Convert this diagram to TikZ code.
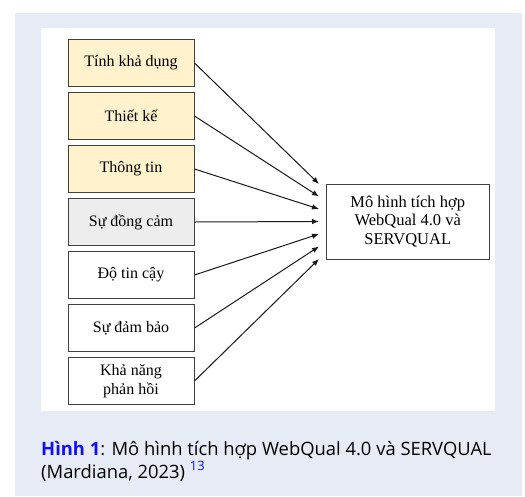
\documentclass[tikz,border=0pt]{standalone}
\usepackage{fontspec}
\setmainfont{Liberation Serif}
\newfontfamily\capfont{Open Sans}
\usetikzlibrary{arrows.meta,calc}

\definecolor{panelbg}{HTML}{E7EBF6}
\definecolor{factoryellow}{HTML}{FFF2CC}
\definecolor{factorgray}{HTML}{EDEDED}
\definecolor{boxline}{HTML}{404040}
\definecolor{linkblue}{HTML}{1010EE}

\tikzset{
  factor/.style={draw=boxline, line width=1pt, minimum width=126pt,
    minimum height=47pt, inner sep=0pt, align=center,
    font=\fontsize{16}{18.5}\selectfont},
  yellowfactor/.style={factor, fill=factoryellow},
  grayfactor/.style={factor, fill=factorgray},
  whitefactor/.style={factor, fill=white},
  model/.style={draw=boxline, line width=1pt, fill=white, minimum width=162.5pt,
    minimum height=75pt, inner sep=0pt, align=center,
    font=\fontsize{16.5}{18.5}\selectfont},
  link/.style={line width=1pt, draw=black!90, -{Latex[length=7pt,width=5.5pt]}},
  captionline/.style={anchor=base west, inner sep=0pt,
    font=\capfont\fontsize{18.4}{23.5}\selectfont}
}

\begin{document}
\begin{tikzpicture}[x=1pt,y=-1pt]
  \useasboundingbox (0,0) rectangle (525,496);
  % page background, caption panel and figure area
  \fill[white] (0,0) rectangle (525,496);
  \fill[panelbg] (15,13) rectangle (522,496);
  \fill[white] (41,28) rectangle (495,411);

  % quality dimensions
  \node[yellowfactor] (f1) at (131,63)  {Tính khả dụng};
  \node[yellowfactor] (f2) at (131,116) {Thiết kế};
  \node[yellowfactor] (f3) at (131,169) {Thông tin};
  \node[grayfactor]   (f4) at (131,222) {Sự đồng cảm};
  \node[whitefactor]  (f5) at (131,275) {Độ tin cậy};
  \node[whitefactor]  (f6) at (131,328) {Sự đảm bảo};
  \node[whitefactor]  (f7) at (131,381) {Khả năng\\phản hồi};

  % integrated model
  \node[model] (m) at (407.75,221.5) {Mô hình tích hợp\\WebQual 4.0 và\\SERVQUAL};

  % arrow targets spread along the left side of the model box
  \foreach \i in {1,...,7} {
    \coordinate (t\i) at ($(m.west)+(-7,{(\i-4)*12.5})$);
    \draw[link] (f\i.east) -- (t\i);
  }

  % caption
  \node[captionline] (cap1) at (41,455)
    {\textcolor{linkblue}{\bfseries Hình 1}: Mô hình tích hợp WebQual 4.0 và SERVQUAL};
  \node[captionline] (cap2) at (41,478)
    {(Mardiana, 2023) \raisebox{1.5pt}{\textsuperscript{\textcolor{linkblue}{13}}}};
\end{tikzpicture}
\end{document}
